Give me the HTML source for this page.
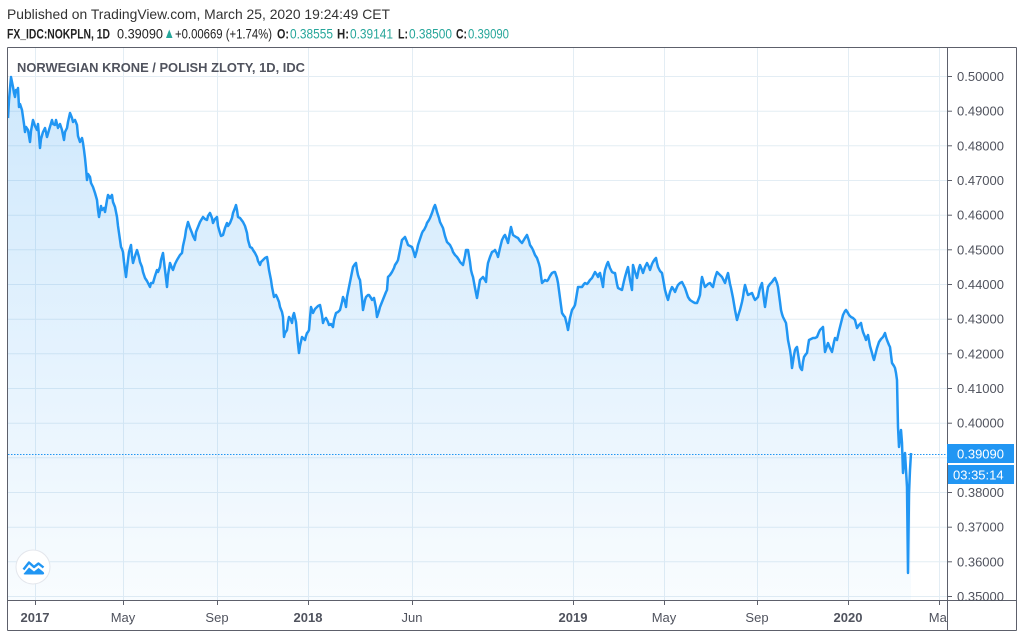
<!DOCTYPE html>
<html><head><meta charset="utf-8"><style>
html,body{margin:0;padding:0;background:#fff;}
svg{display:block;}
text{font-family:"Liberation Sans",Arial,sans-serif;}
</style></head><body>
<svg width="1024" height="638" viewBox="0 0 1024 638" xmlns="http://www.w3.org/2000/svg">
<defs>
<linearGradient id="fg" x1="0" y1="76" x2="0" y2="600" gradientUnits="userSpaceOnUse">
<stop offset="0" stop-color="#2196f3" stop-opacity="0.22"/>
<stop offset="1" stop-color="#2196f3" stop-opacity="0.03"/>
</linearGradient>
<clipPath id="plot"><rect x="8" y="48" width="939" height="552"/></clipPath>
<clipPath id="xax"><rect x="8" y="600" width="939" height="30"/></clipPath>
</defs>
<rect width="1024" height="638" fill="#fff"/>
<!-- header -->
<text x="7" y="19" font-size="14" fill="#333" textLength="383" lengthAdjust="spacingAndGlyphs">Published on TradingView.com, March 25, 2020 19:24:49 CET</text>
<text x="7" y="38.5" font-size="13.5" font-weight="bold" fill="#222" textLength="103" lengthAdjust="spacingAndGlyphs">FX_IDC:NOKPLN, 1D</text>
<text x="117" y="38.5" font-size="13.5" fill="#222" textLength="46" lengthAdjust="spacingAndGlyphs">0.39090</text>
<polygon points="166,38 172.5,38 169.25,29.5" fill="#26a69a"/>
<text x="175" y="38.5" font-size="13.5" fill="#222" textLength="97" lengthAdjust="spacingAndGlyphs">+0.00669 (+1.74%)</text>
<text x="277" y="38.5" font-size="13.5" font-weight="bold" fill="#222" textLength="12" lengthAdjust="spacingAndGlyphs">O:</text>
<text x="290" y="38.5" font-size="13.5" fill="#26a69a" textLength="43" lengthAdjust="spacingAndGlyphs">0.38555</text>
<text x="337" y="38.5" font-size="13.5" font-weight="bold" fill="#222" textLength="12" lengthAdjust="spacingAndGlyphs">H:</text>
<text x="350" y="38.5" font-size="13.5" fill="#26a69a" textLength="43" lengthAdjust="spacingAndGlyphs">0.39141</text>
<text x="398" y="38.5" font-size="13.5" font-weight="bold" fill="#222" textLength="10" lengthAdjust="spacingAndGlyphs">L:</text>
<text x="409" y="38.5" font-size="13.5" fill="#26a69a" textLength="43" lengthAdjust="spacingAndGlyphs">0.38500</text>
<text x="456" y="38.5" font-size="13.5" font-weight="bold" fill="#222" textLength="11" lengthAdjust="spacingAndGlyphs">C:</text>
<text x="468" y="38.5" font-size="13.5" fill="#26a69a" textLength="41" lengthAdjust="spacingAndGlyphs">0.39090</text>

<!-- gridlines -->
<g stroke="#e3edf4" stroke-width="1">
<line x1="8" y1="76.5" x2="947" y2="76.5"/>
<line x1="8" y1="111.2" x2="947" y2="111.2"/>
<line x1="8" y1="145.8" x2="947" y2="145.8"/>
<line x1="8" y1="180.5" x2="947" y2="180.5"/>
<line x1="8" y1="215.2" x2="947" y2="215.2"/>
<line x1="8" y1="249.8" x2="947" y2="249.8"/>
<line x1="8" y1="284.5" x2="947" y2="284.5"/>
<line x1="8" y1="319.2" x2="947" y2="319.2"/>
<line x1="8" y1="353.8" x2="947" y2="353.8"/>
<line x1="8" y1="388.5" x2="947" y2="388.5"/>
<line x1="8" y1="423.2" x2="947" y2="423.2"/>
<line x1="8" y1="457.8" x2="947" y2="457.8"/>
<line x1="8" y1="492.5" x2="947" y2="492.5"/>
<line x1="8" y1="527.2" x2="947" y2="527.2"/>
<line x1="8" y1="561.8" x2="947" y2="561.8"/>
<line x1="8" y1="596.5" x2="947" y2="596.5"/>
<line x1="35.5" y1="48" x2="35.5" y2="600"/>
<line x1="123.5" y1="48" x2="123.5" y2="600"/>
<line x1="217.5" y1="48" x2="217.5" y2="600"/>
<line x1="308.5" y1="48" x2="308.5" y2="600"/>
<line x1="412.5" y1="48" x2="412.5" y2="600"/>
<line x1="573.5" y1="48" x2="573.5" y2="600"/>
<line x1="664.5" y1="48" x2="664.5" y2="600"/>
<line x1="757.5" y1="48" x2="757.5" y2="600"/>
<line x1="848.5" y1="48" x2="848.5" y2="600"/>
<line x1="939.5" y1="48" x2="939.5" y2="600"/>
</g>

<g clip-path="url(#plot)">
<polygon fill="url(#fg)" points="8,600 8,118 11,77 13,87 15,97 16,90 18,88 19,107 22,110 23,117 25,132 28,130 30,142 33,120 37,130 40,148 43,132 47,137 52,120 55,125 58,128 62,130 64,140 67,128 70,113 73,122 77,125 80,142 83,143 85,158 87,180 90,177 93,187 97,200 99,217 102,210 105,212 108,195 112,195 115,207 117,217 119,233 121,247 123,252 126,277 128,260 131,245 133,263 136,253 139,257 142,267 145,278 150,287 153,283 157,270 160,267 163,253 167,287 170,263 173,270 177,260 182,253 185,237 188,222 192,233 195,240 198,227 203,217 207,220 210,213 213,223 217,217 220,233 223,235 227,223 230,223 233,213 236,205 238,217 243,222 247,233 250,247 253,250 257,257 260,265 263,260 267,257 269,270 272,287 274,297 277,297 280,307 283,317 284,337 287,330 289,317 292,323 294,313 297,333 299,353 302,337 305,340 307,333 309,330 311,307 313,313 317,307 320,305 323,323 326,318 329,325 333,327 336,313 340,310 343,297 346,307 349,287 353,267 356,263 358,275 360,280 363,310 366,297 369,295 372,300 374,298 377,317 380,307 384,297 387,290 388,277 392,272 395,265 398,260 402,240 405,237 408,245 412,247 415,257 418,245 422,233 424,230 427,223 430,218 433,210 435,205 437,212 440,222 443,228 447,242 450,245 453,252 457,257 460,262 463,265 466,250 468,250 471,270 473,277 477,298 480,280 483,277 486,282 488,263 492,252 495,250 498,257 502,240 505,235 508,243 511,227 513,235 518,238 522,243 527,235 530,245 533,250 537,258 540,268 542,283 545,280 548,280 552,273 555,272 558,283 562,313 565,317 568,330 572,310 575,305 578,287 582,287 585,283 588,283 592,278 595,272 598,277 600,273 603,287 605,270 608,262 612,272 615,273 618,288 622,290 625,277 628,267 632,290 633,265 637,278 640,265 643,273 647,263 650,270 653,262 656,258 658,267 662,273 665,290 668,300 672,287 675,292 678,285 682,282 685,288 688,297 693,302 697,303 700,295 702,277 705,287 710,283 713,287 717,272 722,277 725,283 728,273 731,288 733,298 737,320 740,310 743,297 745,285 748,295 752,293 755,300 758,297 762,283 765,307 768,287 772,282 775,278 778,287 781,310 783,317 786,323 788,340 791,357 792,368 795,350 797,347 800,367 802,370 804,357 807,353 809,340 813,338 817,337 820,330 823,327 825,352 828,343 832,352 835,338 837,340 840,327 843,315 846,310 849,315 853,318 855,320 857,328 861,323 863,332 866,340 868,335 872,353 874,360 877,348 879,342 883,337 885,333 887,340 890,347 892,363 895,368 897,380 898,427 899,447 901,430 902,443 903,473 905,453 907,487 908,573 909,493 911,453 911,600"/>
<line x1="8" y1="454.5" x2="947" y2="454.5" stroke="#2196f3" stroke-width="1" stroke-dasharray="1.5,1.5"/>
<polyline fill="none" stroke="#2196f3" stroke-width="2.5" stroke-linejoin="round" points="8,118 9,100 11,77 12,82 13,87 14,93 15,97 16,90 17,92 18,88 19,107 20,104 22,110 23,117 24,124 25,132 26,127 28,130 29,136 30,142 31,131 33,120 35,126 37,130 38,124 40,148 41,139 43,132 45,128 47,137 49,130 52,120 53,124 55,125 56,120 58,128 60,124 62,130 64,140 65,132 67,128 68,122 70,113 72,118 73,122 75,120 77,125 78,136 80,142 82,138 83,143 84,150 85,158 86,168 87,180 88,174 90,177 91,183 93,187 95,193 97,200 98,210 99,217 101,206 102,210 104,208 105,212 107,200 108,195 110,198 112,195 113,202 115,207 116,212 117,217 118,226 119,233 120,240 121,247 122,249 123,252 124,262 126,277 127,268 128,260 129,252 131,245 132,256 133,263 135,256 136,253 137,250 139,257 140,262 142,267 143,272 145,278 147,281 150,287 151,283 153,283 155,276 157,270 158,272 160,267 161,260 163,253 165,270 167,287 168,275 170,263 172,268 173,270 175,264 177,260 180,255 182,253 183,246 185,237 186,230 188,222 190,228 192,233 193,236 195,240 196,232 198,227 200,222 203,217 205,219 207,220 208,216 210,213 212,218 213,223 215,219 217,217 218,226 220,233 221,236 223,235 225,228 227,223 228,226 230,223 232,218 233,213 235,208 236,205 237,210 238,217 240,218 243,222 245,226 247,233 248,240 250,247 252,248 253,250 255,253 257,257 258,261 260,265 261,262 263,260 265,258 267,257 268,263 269,270 271,280 272,287 273,292 274,297 276,295 277,297 279,302 280,307 282,312 283,317 284,337 285,333 287,330 288,322 289,317 291,320 292,323 293,316 294,313 296,322 297,333 298,344 299,353 300,346 302,337 304,339 305,340 306,336 307,333 308,332 309,330 310,318 311,307 312,310 313,313 315,309 317,307 318,306 320,305 322,315 323,323 324,320 326,318 328,322 329,325 331,324 333,327 334,320 336,313 338,312 340,310 342,302 343,297 345,302 346,307 347,297 349,287 351,277 353,267 355,264 356,263 357,270 358,275 359,278 360,280 362,298 363,310 365,300 366,297 368,295 369,295 371,298 372,300 373,299 374,298 376,308 377,317 379,311 380,307 382,302 384,297 386,292 387,290 388,277 390,275 392,272 394,268 395,265 397,262 398,260 400,250 402,240 404,238 405,237 407,242 408,245 410,246 412,247 414,253 415,257 417,250 418,245 420,239 422,233 423,231 424,230 426,226 427,223 429,220 430,218 432,213 433,210 434,207 435,205 436,208 437,212 439,218 440,222 442,226 443,228 445,236 447,242 449,244 450,245 452,249 453,252 455,255 457,257 459,260 460,262 462,264 463,265 465,256 466,250 467,250 468,250 470,262 471,270 472,274 473,277 475,288 477,298 479,286 480,280 482,278 483,277 485,280 486,282 487,270 488,263 490,257 492,252 494,251 495,250 497,254 498,257 500,248 502,240 504,236 505,235 507,240 508,243 510,232 511,227 512,231 513,235 516,237 518,238 520,241 522,243 525,238 527,235 529,241 530,245 532,248 533,250 535,255 537,258 539,264 540,268 541,276 542,283 544,281 545,280 547,281 548,280 550,276 552,273 554,272 555,272 557,278 558,283 560,298 562,313 564,316 565,317 567,325 568,330 570,318 572,310 574,307 575,305 577,293 578,287 580,287 582,287 584,284 585,283 587,284 588,283 590,280 592,278 594,274 595,272 597,275 598,277 599,274 600,273 602,282 603,287 604,276 605,270 607,264 608,262 610,268 612,272 614,273 615,273 617,284 618,288 620,289 622,290 624,281 625,277 627,270 628,267 630,280 632,290 633,265 635,272 637,278 639,268 640,265 642,270 643,273 645,267 647,263 649,267 650,270 652,264 653,262 655,259 656,258 657,263 658,267 660,271 662,273 664,284 665,290 667,297 668,300 670,292 672,287 674,290 675,292 677,287 678,285 680,283 682,282 684,286 685,288 687,294 688,297 690,300 693,302 695,303 697,303 699,298 700,295 701,284 702,277 704,284 705,287 708,284 710,283 712,286 713,287 715,278 717,272 720,275 722,277 724,281 725,283 727,276 728,273 730,284 731,288 732,293 733,298 735,310 737,320 739,313 740,310 742,302 743,297 744,290 745,285 747,292 748,295 750,294 752,293 754,298 755,300 757,298 758,297 760,288 762,283 764,300 765,307 767,293 768,287 770,284 772,282 774,279 775,278 777,283 778,287 780,302 781,310 782,314 783,317 785,321 786,323 787,331 788,340 790,350 791,357 792,368 794,355 795,350 796,348 797,347 799,360 800,367 801,369 802,370 803,362 804,357 806,354 807,353 808,346 809,340 811,339 813,338 815,338 817,337 819,332 820,330 822,328 823,327 824,340 825,352 827,346 828,343 830,348 832,352 834,342 835,338 836,339 837,340 839,331 840,327 842,319 843,315 845,311 846,310 848,313 849,315 851,317 853,318 854,319 855,320 856,324 857,328 859,325 861,323 862,328 863,332 865,337 866,340 867,337 868,335 870,346 872,353 873,357 874,360 876,352 877,348 878,345 879,342 881,339 883,337 884,335 885,333 886,337 887,340 889,345 890,347 891,355 892,363 894,366 895,368 896,373 897,380 898,427 899,447 900,438 901,430 902,443 903,473 904,462 905,453 906,470 907,487 908,573 909,493 910,470 911,453"/>
</g>

<!-- chart title -->
<text x="17" y="72" font-size="13" font-weight="bold" fill="#50535e" textLength="288" lengthAdjust="spacingAndGlyphs">NORWEGIAN KRONE / POLISH ZLOTY, 1D, IDC</text>

<!-- logo -->
<circle cx="33" cy="567" r="17" fill="#fff" stroke="#e3e6ec" stroke-width="1"/>
<path d="M23.5,574 L29,567.5 L34,571.5 L38.5,568 L43.5,572 Q45,574 43,574.5 L24.5,574.5 Z" fill="#2196f3"/>
<polyline points="23.5,569.5 29,562.5 34,567 38.5,563.5 43.5,567.5" fill="none" stroke="#2196f3" stroke-width="2.4" stroke-linejoin="round"/>

<!-- frame -->
<g stroke="#5d606b" stroke-width="1" fill="none">
<line x1="7.5" y1="47.5" x2="1016.5" y2="47.5"/>
<line x1="7.5" y1="47.5" x2="7.5" y2="630.5"/>
<line x1="7.5" y1="630.5" x2="1016.5" y2="630.5"/>
<line x1="1016.5" y1="47.5" x2="1016.5" y2="630.5"/>
<line x1="947.5" y1="47.5" x2="947.5" y2="630.5"/>
<line x1="7.5" y1="600.5" x2="1016.5" y2="600.5"/>
</g>
<!-- ticks -->
<g stroke="#5d606b" stroke-width="1">
<line x1="947" y1="76.5" x2="952" y2="76.5"/>
<line x1="947" y1="111.2" x2="952" y2="111.2"/>
<line x1="947" y1="145.8" x2="952" y2="145.8"/>
<line x1="947" y1="180.5" x2="952" y2="180.5"/>
<line x1="947" y1="215.2" x2="952" y2="215.2"/>
<line x1="947" y1="249.8" x2="952" y2="249.8"/>
<line x1="947" y1="284.5" x2="952" y2="284.5"/>
<line x1="947" y1="319.2" x2="952" y2="319.2"/>
<line x1="947" y1="353.8" x2="952" y2="353.8"/>
<line x1="947" y1="388.5" x2="952" y2="388.5"/>
<line x1="947" y1="423.2" x2="952" y2="423.2"/>
<line x1="947" y1="492.5" x2="952" y2="492.5"/>
<line x1="947" y1="527.2" x2="952" y2="527.2"/>
<line x1="947" y1="561.8" x2="952" y2="561.8"/>
<line x1="947" y1="596.5" x2="952" y2="596.5"/>
<line x1="35.5" y1="600" x2="35.5" y2="605"/>
<line x1="123.5" y1="600" x2="123.5" y2="605"/>
<line x1="217.5" y1="600" x2="217.5" y2="605"/>
<line x1="308.5" y1="600" x2="308.5" y2="605"/>
<line x1="412.5" y1="600" x2="412.5" y2="605"/>
<line x1="573.5" y1="600" x2="573.5" y2="605"/>
<line x1="664.5" y1="600" x2="664.5" y2="605"/>
<line x1="757.5" y1="600" x2="757.5" y2="605"/>
<line x1="848.5" y1="600" x2="848.5" y2="605"/>
<line x1="939.5" y1="600" x2="939.5" y2="605"/>
</g>
<!-- price labels -->
<g font-size="13" fill="#50535e">
<text x="957" y="81">0.50000</text>
<text x="957" y="115.7">0.49000</text>
<text x="957" y="150.3">0.48000</text>
<text x="957" y="185">0.47000</text>
<text x="957" y="219.7">0.46000</text>
<text x="957" y="254.3">0.45000</text>
<text x="957" y="289">0.44000</text>
<text x="957" y="323.7">0.43000</text>
<text x="957" y="358.3">0.42000</text>
<text x="957" y="393">0.41000</text>
<text x="957" y="427.7">0.40000</text>
<text x="957" y="497">0.38000</text>
<text x="957" y="531.7">0.37000</text>
<text x="957" y="566.3">0.36000</text>
<text x="957" y="601">0.35000</text>
</g>
<rect x="947" y="444" width="67" height="19" fill="#2196f3"/>
<text x="957" y="458.5" font-size="13" fill="#fff">0.39090</text>
<rect x="948" y="465" width="66" height="19" fill="#2196f3"/>
<text x="953" y="479.5" font-size="13" fill="#fff">03:35:14</text>
<!-- x labels -->
<g font-size="13" fill="#50535e" text-anchor="middle" clip-path="url(#xax)">
<text x="35" y="622" font-weight="bold">2017</text>
<text x="123" y="622">May</text>
<text x="217" y="622">Sep</text>
<text x="308" y="622" font-weight="bold">2018</text>
<text x="412" y="622">Jun</text>
<text x="573" y="622" font-weight="bold">2019</text>
<text x="664" y="622">May</text>
<text x="757" y="622">Sep</text>
<text x="848" y="622" font-weight="bold">2020</text>
<text x="940" y="622">Mar</text>
</g>
</svg>
</body></html>
